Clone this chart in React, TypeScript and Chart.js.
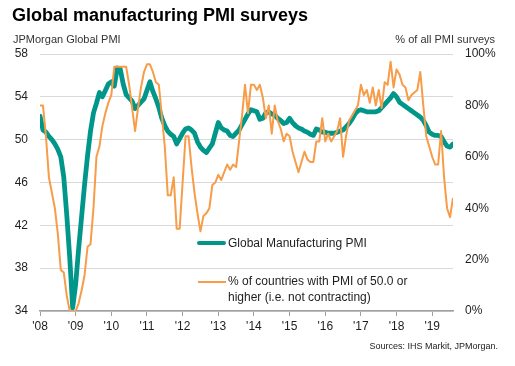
import React, { useEffect, useRef } from "react";
import { Chart, registerables } from "chart.js";

Chart.register(...registerables);

const yearLabels = ["'08", "'09", "'10", "'11", "'12", "'13", "'14", "'15", "'16", "'17", "'18", "'19"];
const leftTicks = [34, 38, 42, 46, 50, 54, 58];
const rightTicks = [0, 20, 40, 60, 80, 100];

// JPMorgan Global Manufacturing PMI, monthly from Jan 2008 to Aug 2019
const globalPMI = [
  52.2, 50.9, 50.7, 50.3, 50.0, 49.6, 49.1, 48.4, 46.5, 43.0, 39.0, 34.3,
  36.5, 39.8, 42.8, 45.8, 48.5, 50.8, 52.5, 53.4, 54.4, 54.0, 54.6, 55.2,
  55.4, 55.0, 56.7, 56.6, 55.2, 54.2, 53.9, 53.6, 52.9, 53.2, 53.5, 53.8,
  54.6, 55.4, 54.5, 53.8, 53.0, 52.0, 51.3, 50.8, 50.5, 50.3, 49.6, 50.1,
  50.6, 51.0, 51.1, 50.9, 50.6, 49.8, 49.3, 49.0, 48.8, 49.2, 49.6, 50.6,
  51.6, 51.1, 50.9, 50.8, 50.4, 50.3, 50.6, 50.9, 51.4, 51.9, 52.4, 52.8,
  52.7, 52.6, 51.9, 52.0, 52.5, 52.6, 52.4, 52.3, 52.0, 51.8, 51.5, 51.6,
  52.0, 51.6, 51.3, 51.1, 51.0, 50.8, 50.7, 50.5, 50.4, 51.0, 50.9, 50.7,
  50.7, 50.6, 50.6, 50.6, 50.7, 50.8, 50.9, 51.2, 51.5, 51.9, 52.4, 52.7,
  52.8, 52.7, 52.6, 52.6, 52.6, 52.6, 52.7, 53.0, 53.3, 53.6, 53.9, 54.3,
  54.0, 53.5, 53.3, 53.1, 52.9, 52.7, 52.5, 52.3, 52.1, 51.8, 51.3, 50.7,
  50.5, 50.4, 50.4, 50.3, 49.8, 49.4, 49.3, 49.6,
];

// % of countries with PMI of 50.0 or higher
const shareExpanding = [
  80, 80, 68, 52, 46, 40, 30, 16, 15, 6, 0, 0,
  0, 3, 8, 14, 25, 26, 40, 60, 64, 72, 77, 81,
  84, 95, 95, 95, 95, 95, 88, 79, 70, 79, 87, 93,
  96, 96, 93, 89, 88, 76, 64, 45, 45, 52, 32, 32,
  50, 68, 68, 56, 46, 38, 31, 37, 38, 40, 49, 50,
  53, 51, 54, 57, 55, 57, 56, 66, 76, 88, 77, 88,
  88, 86, 88, 83, 75, 80, 69, 80, 74, 71, 66, 69,
  68, 62, 58, 54, 58, 62, 59, 58, 58, 66, 66, 75,
  66, 69, 66, 68, 70, 75, 60, 68, 74, 76, 78, 80,
  88, 84, 86, 81, 87, 80, 86, 79, 89, 88, 97, 87,
  94, 92, 88, 87, 82, 84, 85, 86, 93, 80, 68, 64,
  60, 57, 57, 70, 52, 40, 36.5, 44,
];

const TEAL = "#00978A";
const ORANGE = "#F79C48";
const FONT = "'Liberation Sans', Arial, sans-serif";
const TEXT = "#1e1e1e";

export default function App() {
  const ref = useRef<HTMLCanvasElement | null>(null);

  useEffect(() => {
    if (!ref.current) return;
    const months = globalPMI.map((_, i) => i);
    const chart = new Chart(ref.current, {
      type: "line",
      data: {
        labels: months,
        datasets: [
          {
            label: "% of countries with PMI of 50.0 or higher (i.e. not contracting)",
            data: shareExpanding.map((v, i) => ({ x: i, y: v })),
            yAxisID: "yR",
            borderColor: ORANGE,
            borderWidth: 2,
            pointRadius: 0,
            tension: 0,
            borderJoinStyle: "round",
          },
          {
            label: "Global Manufacturing PMI",
            data: globalPMI.map((v, i) => ({ x: i, y: v })),
            yAxisID: "yL",
            borderColor: TEAL,
            borderWidth: 4.8,
            pointRadius: 0,
            tension: 0,
            borderJoinStyle: "round",
            borderCapStyle: "round",
          },
        ],
      },
      options: {
        animation: false,
        responsive: false,
        maintainAspectRatio: false,
        layout: { padding: { top: 54, left: 0, right: 0, bottom: 0 } },
        plugins: { legend: { display: false }, tooltip: { enabled: false } },
        scales: {
          x: {
            type: "linear",
            min: 0,
            max: months.length - 1,
            afterBuildTicks: (s: any) => {
              s.ticks = yearLabels.map((_, i) => ({ value: i * 12 }));
            },
            afterFit: (s: any) => {
              s.height = 55;
            },
            ticks: {
              autoSkip: false,
              maxRotation: 0,
              padding: 3,
              color: TEXT,
              font: { family: FONT, size: 12 },
              callback: (v: any) => yearLabels[Math.round(Number(v) / 12)] ?? "",
            },
            grid: { drawOnChartArea: false, drawTicks: true, tickLength: 5, color: "#a0a0a0", lineWidth: 1 },
            border: { display: true, color: "#a0a0a0", width: 1.5 },
          },
          yL: {
            position: "left",
            min: 34,
            max: 58,
            afterBuildTicks: (s: any) => {
              s.ticks = leftTicks.map((v) => ({ value: v }));
            },
            afterFit: (s: any) => {
              s.width = 40;
            },
            ticks: { padding: 12, color: TEXT, font: { family: FONT, size: 12 } },
            grid: { color: "#d9d9d9", lineWidth: 1, drawTicks: false },
            border: { display: false },
          },
          yR: {
            position: "right",
            min: 0,
            max: 100,
            afterBuildTicks: (s: any) => {
              s.ticks = rightTicks.map((v) => ({ value: v }));
            },
            afterFit: (s: any) => {
              s.width = 62;
            },
            ticks: {
              padding: 12,
              color: TEXT,
              font: { family: FONT, size: 12 },
              callback: (v: any) => v + "%",
            },
            grid: { drawOnChartArea: false, drawTicks: false },
            border: { display: false },
          },
        },
      },
    } as any);
    return () => chart.destroy();
  }, []);

  const abs = (s: React.CSSProperties): React.CSSProperties => ({
    position: "absolute",
    fontFamily: FONT,
    color: TEXT,
    whiteSpace: "nowrap",
    ...s,
  });

  return (
    <div style={{ position: "fixed", left: 0, top: 0, width: 515, height: 366, background: "#fff", overflow: "hidden" }}>
      <canvas ref={ref} width={515} height={366} style={{ position: "absolute", left: 0, top: 0, width: 515, height: 366 }} />
      <div style={abs({ left: 12, top: 4.5, fontSize: 18, fontWeight: "bold", lineHeight: "20px", color: "#000" })}>
        Global manufacturing PMI surveys
      </div>
      <div style={abs({ left: 13, top: 32.5, fontSize: 11, lineHeight: "13px", color: "#333" })}>JPMorgan Global PMI</div>
      <div style={abs({ right: 20, top: 32.5, fontSize: 11, lineHeight: "13px", color: "#333" })}>% of all PMI surveys</div>
      <div style={abs({ left: 197, top: 240.5, width: 29, height: 4.5, background: TEAL, borderRadius: 2 })} />
      <div style={abs({ left: 228, top: 235.6, fontSize: 12, lineHeight: "14px" })}>Global Manufacturing PMI</div>
      <div style={abs({ left: 198, top: 280.5, width: 28, height: 2, background: ORANGE })} />
      <div style={abs({ left: 228, top: 274.4, fontSize: 12, lineHeight: "15.6px" })}>
        % of countries with PMI of 50.0 or
        <br />
        higher (i.e. not contracting)
      </div>
      <div style={abs({ right: 17, top: 341, fontSize: 9, lineHeight: "11px", color: "#222" })}>
        Sources: IHS Markit, JPMorgan.
      </div>
    </div>
  );
}
